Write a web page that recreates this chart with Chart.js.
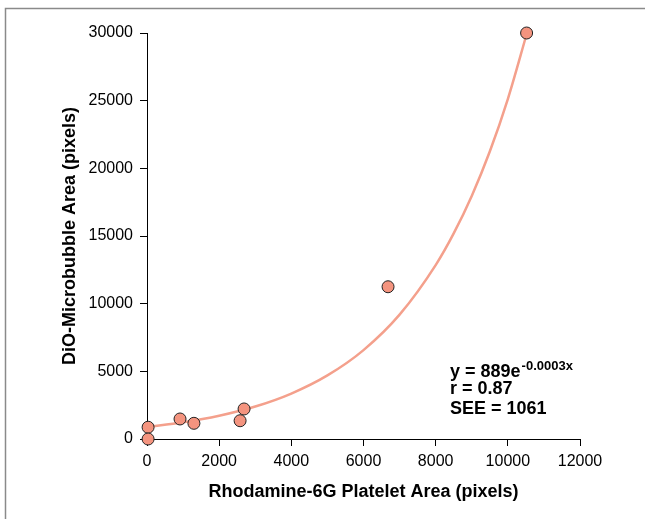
<!DOCTYPE html>
<html>
<head>
<meta charset="utf-8">
<script src="https://cdn.jsdelivr.net/npm/chart.js@4.4.1/dist/chart.umd.min.js"></script>
<style>
  html, body { margin: 0; padding: 0; background: #ffffff; }
  #wrap { position: relative; width: 645px; height: 519px; }
  canvas { display: block; }
</style>
</head>
<body>
<div id="wrap"><canvas id="c" width="645" height="519"></canvas></div>
<script>
// Observed data points (Rhodamine-6G platelet area vs DiO-microbubble area)
const pointX = [30, 30, 915, 1300, 2580, 2690, 6680, 10520];
const pointY = [870, 0, 1480, 1160, 1350, 2220, 11250, 30000];

// Fitted curve, values
const curveX = [0, 1000, 2000, 3000, 4000, 5000, 6000, 7000, 8000, 8500, 9000, 9500, 10000, 10530];
const curveY = [880, 1230, 1720, 2400, 3360, 4700, 6570, 9190, 12850, 15190, 17960, 21240, 25120, 30000];

// Axes
const xTitle = 'Rhodamine-6G Platelet Area (pixels)';
const yTitle = 'DiO-Microbubble Area (pixels)';
const xMin = 0, xMax = 12000, xStep = 2000;
const yMin = 0, yMax = 30000, yStep = 5000;

// Annotation text
const eqMain = 'y = 889e';
const eqSup = '-0.0003x';
const statLines = ['r = 0.87', 'SEE = 1061'];

const FONT = '"Liberation Sans", Arial, Helvetica, sans-serif';

const framePlugin = {
  id: 'frame',
  beforeDraw(chart) {
    const ctx = chart.ctx;
    ctx.save();
    ctx.strokeStyle = '#8a8a8a';
    ctx.lineWidth = 1.5;
    ctx.beginPath();
    ctx.moveTo(5.5, 519);
    ctx.lineTo(5.5, 8.5);
    ctx.lineTo(645, 8.5);
    ctx.stroke();
    ctx.restore();
  }
};

const annotationPlugin = {
  id: 'fitText',
  afterDraw(chart) {
    const ctx = chart.ctx;
    const area = chart.chartArea;
    const x0 = area.left + 303;
    const y0 = area.top + 339;
    ctx.save();
    ctx.fillStyle = '#000';
    ctx.textBaseline = 'middle';
    ctx.textAlign = 'left';
    ctx.font = 'bold 18px ' + FONT;
    ctx.fillText(eqMain, x0, y0);
    const w = ctx.measureText(eqMain).width;
    ctx.font = 'bold 13px ' + FONT;
    ctx.fillText(eqSup, x0 + w + 1, y0 - 6);
    ctx.font = 'bold 18px ' + FONT;
    statLines.forEach((t, i) => ctx.fillText(t, x0, y0 + 17.5 + i * 19.5));
    ctx.restore();
  }
};

const plainNumber = (v) => String(v);

new Chart(document.getElementById('c'), {
  type: 'scatter',
  data: {
    datasets: [
      {
        label: 'data',
        data: pointX.map((x, i) => ({ x, y: pointY[i] })),
        pointRadius: 6,
        pointHoverRadius: 6,
        pointBackgroundColor: '#f4947f',
        pointBorderColor: '#222222',
        pointBorderWidth: 1,
        showLine: false,
        clip: false
      },
      {
        label: 'fit',
        type: 'line',
        data: curveX.map((x, i) => ({ x, y: curveY[i] })),
        borderColor: '#f4a08c',
        borderWidth: 2.5,
        pointRadius: 0,
        fill: false,
        cubicInterpolationMode: 'monotone',
        clip: false
      }
    ]
  },
  options: {
    responsive: false,
    animation: false,
    devicePixelRatio: 1,
    layout: { padding: { left: 0, top: 33, right: 65, bottom: 0 } },
    plugins: {
      legend: { display: false },
      tooltip: { enabled: false },
      title: { display: false }
    },
    scales: {
      x: {
        type: 'linear',
        min: xMin, max: xMax,
        afterFit(s) { s.height = 80; },
        ticks: {
          stepSize: xStep,
          color: '#000',
          padding: 6,
          maxRotation: 0,
          callback: plainNumber,
          font: { family: FONT, size: 16 }
        },
        grid: { drawOnChartArea: false, drawTicks: true, tickLength: 7, color: '#000', lineWidth: 1 },
        border: { display: true, color: '#000', width: 1 },
        title: {
          display: true,
          text: xTitle,
          color: '#000',
          font: { family: FONT, size: 18, weight: 'bold' },
          padding: { top: 0, bottom: 16 }
        }
      },
      y: {
        type: 'linear',
        min: yMin, max: yMax,
        afterFit(s) { s.width = 147; },
        ticks: {
          stepSize: yStep,
          color: '#000',
          padding: 7,
          callback: plainNumber,
          font: { family: FONT, size: 16 }
        },
        grid: { drawOnChartArea: false, drawTicks: true, tickLength: 7, color: '#000', lineWidth: 1 },
        border: { display: true, color: '#000', width: 1 },
        title: {
          display: true,
          text: yTitle,
          color: '#000',
          font: { family: FONT, size: 18, weight: 'bold' },
          padding: { top: 59, bottom: 0 }
        }
      }
    }
  },
  plugins: [framePlugin, annotationPlugin]
});
</script>
</body>
</html>
